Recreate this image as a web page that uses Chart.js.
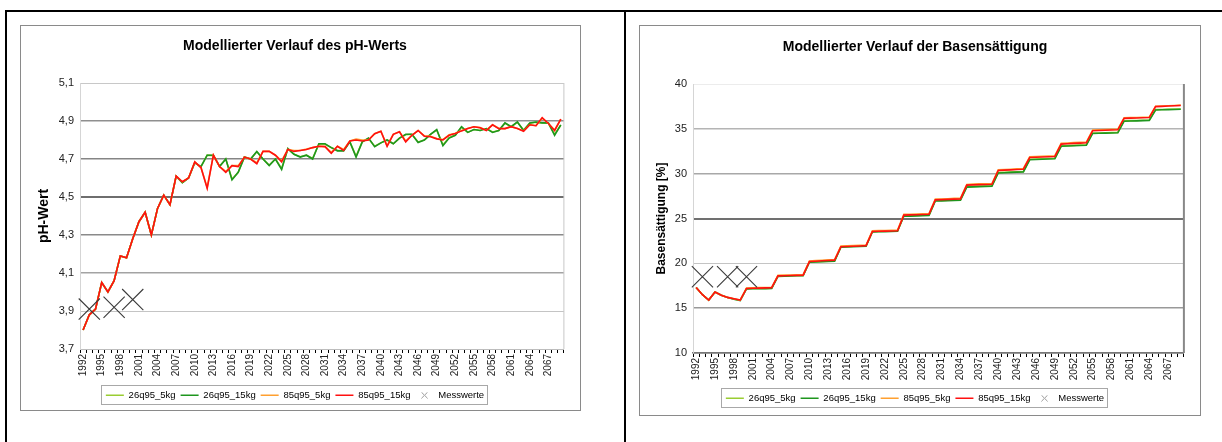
<!DOCTYPE html>
<html><head><meta charset="utf-8">
<script src="https://cdn.jsdelivr.net/npm/chart.js@4.4.1/dist/chart.umd.min.js"></script>
<style>
body{margin:0;background:#fff;width:1222px;height:442px;position:relative;overflow:hidden}
.rule{position:absolute;background:#000}
.box{position:absolute;box-sizing:border-box;border:1px solid #8a8a8a;background:#fff}
.box canvas{display:block}
</style></head><body>
<div class="rule" style="left:5px;top:10px;width:1217px;height:2px"></div>
<div class="rule" style="left:5px;top:10px;width:2px;height:432px"></div>
<div class="rule" style="left:624px;top:10px;width:2px;height:432px"></div>
<div class="box" style="left:20px;top:25px;width:561px;height:386px"><canvas id="phChart" width="559" height="384"></canvas></div>
<div class="box" style="left:639px;top:25px;width:562px;height:391px"><canvas id="bsChart" width="560" height="389"></canvas></div>
<script>
const years=[1992,1993,1994,1995,1996,1997,1998,1999,2000,2001,2002,2003,2004,2005,2006,2007,2008,2009,2010,2011,
  2012,2013,2014,2015,2016,2017,2018,2019,2020,2021,2022,2023,2024,2025,2026,2027,2028,2029,2030,2031,
  2032,2033,2034,2035,2036,2037,2038,2039,2040,2041,2042,2043,2044,2045,2046,2047,2048,2049,2050,2051,
  2052,2053,2054,2055,2056,2057,2058,2059,2060,2061,2062,2063,2064,2065,2066,2067,2068,2069];
const seriesNames=["26q95_5kg","26q95_15kg","85q95_5kg","85q95_15kg","Messwerte"];

// pH-Wert
const phLightGreen=[3.80,3.88,3.91,4.05,4.00,4.06,4.19,4.18,4.28,4.37,
  4.42,4.30,4.44,4.51,4.46,4.61,4.575,4.60,4.68,4.66,
  4.72,4.718,4.662,4.70,4.595,4.63,4.71,4.70,4.738,4.70,
  4.668,4.70,4.65,4.753,4.725,4.712,4.72,4.703,4.778,4.778,
  4.76,4.745,4.745,4.79,4.715,4.79,4.808,4.767,4.785,4.80,
  4.78,4.81,4.828,4.83,4.79,4.80,4.83,4.852,4.775,4.812,
  4.826,4.868,4.84,4.855,4.85,4.86,4.842,4.85,4.888,4.87,
  4.893,4.852,4.888,4.893,4.89,4.888,4.83,4.878];
const phGreen=[3.80,3.88,3.91,4.05,4.00,4.06,4.19,4.18,4.28,4.37,
  4.42,4.30,4.44,4.51,4.46,4.61,4.575,4.60,4.68,4.66,
  4.72,4.72,4.66,4.70,4.59,4.63,4.71,4.70,4.74,4.70,
  4.665,4.70,4.645,4.755,4.725,4.71,4.72,4.70,4.78,4.78,
  4.76,4.743,4.743,4.79,4.71,4.79,4.81,4.765,4.785,4.80,
  4.78,4.81,4.83,4.83,4.787,4.80,4.83,4.855,4.77,4.81,
  4.825,4.87,4.84,4.855,4.85,4.86,4.84,4.85,4.89,4.87,
  4.895,4.85,4.89,4.895,4.89,4.89,4.825,4.88];
const phOrange=[3.80,3.88,3.91,4.05,4.00,4.06,4.19,4.18,4.28,4.37,
  4.42,4.30,4.44,4.51,4.46,4.61,4.58,4.60,4.685,4.655,
  4.55,4.72,4.66,4.635,4.665,4.665,4.71,4.70,4.68,4.74,
  4.74,4.72,4.69,4.75,4.745,4.745,4.752,4.76,4.767,4.765,
  4.735,4.767,4.75,4.795,4.805,4.80,4.80,4.833,4.846,4.77,
  4.83,4.843,4.795,4.825,4.85,4.822,4.82,4.808,4.802,4.828,
  4.836,4.85,4.86,4.87,4.865,4.852,4.88,4.862,4.86,4.87,
  4.86,4.848,4.88,4.875,4.915,4.887,4.852,4.91];
const phRed=[3.80,3.88,3.91,4.05,4.00,4.06,4.19,4.18,4.28,4.37,
  4.42,4.30,4.44,4.51,4.46,4.61,4.58,4.60,4.685,4.655,
  4.545,4.72,4.66,4.63,4.665,4.66,4.71,4.70,4.675,4.74,
  4.74,4.72,4.685,4.75,4.74,4.745,4.75,4.76,4.767,4.765,
  4.73,4.767,4.745,4.795,4.80,4.795,4.80,4.833,4.846,4.767,
  4.83,4.843,4.79,4.825,4.85,4.82,4.817,4.806,4.80,4.825,
  4.834,4.848,4.86,4.87,4.865,4.85,4.88,4.86,4.86,4.87,
  4.86,4.846,4.88,4.875,4.918,4.887,4.85,4.91];

// Basensättigung [%]
const bsLightGreen=[17.3,16.5,15.9,16.8,16.45,16.2,16.02,15.88,
  17.18,17.19,17.2,17.21,17.22, 18.58,18.6,18.62,18.64,18.66, 20.16,20.19,20.22,20.25,20.28,
  21.84,21.87,21.9,21.93,21.96, 23.53,23.55,23.57,23.59,23.61, 25.3,25.32,25.34,25.36,25.38,
  27.0,27.02,27.04,27.06,27.08, 28.55,28.58,28.61,28.63,28.65, 30.13,30.16,30.19,30.22,30.25,
  31.6,31.63,31.66,31.69,31.72, 33.1,33.13,33.16,33.19,33.22, 34.52,34.54,34.56,34.58,34.6,
  35.89,35.91,35.93,35.95,35.97, 37.14,37.16,37.18,37.2,37.22];
const bsGreen=[17.3,16.5,15.9,16.8,16.45,16.2,16.0,15.85,
  17.15,17.16,17.17,17.18,17.19, 18.55,18.57,18.59,18.61,18.63, 20.12,20.15,20.18,20.21,20.24,
  21.8,21.83,21.86,21.89,21.92, 23.5,23.52,23.54,23.56,23.58, 25.25,25.27,25.29,25.31,25.33,
  26.95,26.97,26.99,27.01,27.03, 28.5,28.53,28.56,28.58,28.6, 30.08,30.11,30.14,30.17,30.2,
  31.55,31.58,31.61,31.64,31.67, 33.05,33.08,33.11,33.14,33.17, 34.48,34.5,34.52,34.54,34.56,
  35.85,35.87,35.89,35.91,35.93, 37.1,37.12,37.14,37.16,37.18];
const bsOrange=[17.3,16.5,15.9,16.8,16.45,16.2,16.05,15.9,
  17.25,17.27,17.29,17.31,17.33, 18.66,18.68,18.7,18.72,18.74, 20.27,20.31,20.35,20.39,20.43,
  21.93,21.96,21.99,22.02,22.05, 23.63,23.65,23.67,23.69,23.71, 25.46,25.48,25.5,25.53,25.56,
  27.16,27.18,27.21,27.24,27.27, 28.8,28.83,28.86,28.88,28.9, 30.44,30.47,30.5,30.54,30.58,
  31.88,31.91,31.94,31.97,32.0, 33.38,33.42,33.46,33.49,33.52, 34.86,34.89,34.92,34.95,34.97,
  36.23,36.25,36.27,36.3,36.32, 37.52,37.55,37.58,37.61,37.64];
const bsRed=[17.3,16.5,15.9,16.8,16.45,16.2,16.05,15.9,
  17.2,17.22,17.24,17.26,17.28, 18.6,18.62,18.64,18.66,18.68, 20.2,20.24,20.28,20.32,20.36,
  21.85,21.88,21.91,21.94,21.97, 23.55,23.57,23.59,23.61,23.63, 25.38,25.4,25.42,25.45,25.48,
  27.08,27.1,27.13,27.16,27.19, 28.72,28.75,28.78,28.8,28.82, 30.36,30.39,30.42,30.46,30.5,
  31.8,31.83,31.86,31.89,31.92, 33.3,33.34,33.38,33.41,33.44, 34.78,34.81,34.84,34.87,34.89,
  36.17,36.19,36.21,36.24,36.26, 37.48,37.51,37.54,37.57,37.6];

// Messwerte
const messYears=[1993,1997,2000];
const messPh=[3.91,3.92,3.96];
const messBs=[18.5,18.5,18.5];

Chart.defaults.font.family='"Liberation Sans",Arial,sans-serif';
Chart.defaults.color="#222";

const lineColors=["#9acd32","#1e961e","#ffa030","#ff1010"];

// small grey x for the legend entry
const legendCross=document.createElement("canvas");
legendCross.width=7;legendCross.height=7;
(()=>{const g=legendCross.getContext("2d");g.strokeStyle="#9a9a9a";g.lineWidth=1;
  g.beginPath();g.moveTo(0.5,0.5);g.lineTo(6.5,6.5);g.moveTo(6.5,0.5);g.lineTo(0.5,6.5);g.stroke();})();

// plot edge on the right + box round the legend
const frame={id:"frame",afterDraw(c,a,o){
  const {ctx,chartArea:ca,legend:lg}=c;
  ctx.save();
  ctx.strokeStyle=o.edge;ctx.lineWidth=o.edgeWidth;
  ctx.beginPath();ctx.moveTo(ca.right,ca.top);ctx.lineTo(ca.right,ca.bottom);ctx.stroke();
  const hb=lg.legendHitBoxes,last=hb[hb.length-1];
  const l=Math.round(hb[0].left-5),r=Math.round(last.left+last.width+3);
  const cy=Math.round(hb[0].top+hb[0].height/2);
  ctx.strokeStyle="#a8a8a8";ctx.lineWidth=1;
  ctx.strokeRect(l+.5,cy-9.5,r-l,19);
  ctx.restore();
}};

function makeChart(id,s){
  const data=[s.lightGreen,s.green,s.orange,s.red];
  const ds=data.map((d,i)=>({label:seriesNames[i],data:d,borderColor:lineColors[i],backgroundColor:lineColors[i],
    borderWidth:1.6,pointRadius:0,pointStyle:"line",tension:0,order:4-i}));
  ds.push({label:seriesNames[4],data:messYears.map((y,i)=>({x:String(y),y:s.mess[i]})),showLine:false,
    pointStyle:"crossRot",pointRadius:15,borderColor:"#3a3a3a",backgroundColor:"transparent",borderWidth:1.1,order:0});
  return new Chart(document.getElementById(id),{type:"line",
    data:{labels:years.map(String),datasets:ds},
    plugins:[frame],
    options:{responsive:false,animation:false,events:[],
      layout:{padding:{left:0,right:s.padRight,top:0,bottom:s.padBottom}},
      plugins:{
        title:{display:true,text:s.title,color:"#000",font:{size:14,weight:"bold"},padding:s.titlePad},
        legend:{position:"bottom",
          labels:{usePointStyle:true,pointStyleWidth:18,boxHeight:6,padding:5,color:"#000",font:{size:9.5},
            sort:(a,b)=>a.datasetIndex-b.datasetIndex,
            generateLabels(c){const it=Chart.defaults.plugins.legend.labels.generateLabels(c);
              it.forEach(x=>{if(x.pointStyle==="crossRot")x.pointStyle=legendCross});return it}}},
        tooltip:{enabled:false},
        frame:{edge:s.edge,edgeWidth:s.edgeWidth}
      },
      scales:{
        x:{offset:true,grid:{offset:true,drawOnChartArea:false,tickLength:4,color:"#000"},
          border:{color:s.gridColors[0],width:s.gridWidths[0]},
          ticks:{autoSkip:false,minRotation:90,maxRotation:90,padding:1,font:{size:10},color:"#222",
            callback(v,i){return i%3===0?this.getLabelForValue(v):""}},
          afterFit(sc){sc.height=s.xHeight}},
        y:{min:s.min,max:s.max,ticks:{stepSize:s.step,padding:6,font:{size:11},color:"#222",callback:s.fmt},
          grid:{drawTicks:false,color:c=>s.gridColors[c.index],lineWidth:c=>s.gridWidths[c.index]},
          border:{color:"#d5d5d5"},
          title:{display:true,text:s.yTitle,color:"#000",font:{size:s.yTitleSize,weight:"bold"},padding:{top:s.yTitlePad,bottom:0}},
          afterFit(sc){sc.width=s.yWidth}}
      }}});
}

makeChart("phChart",{lightGreen:phLightGreen,green:phGreen,orange:phOrange,red:phRed,mess:messPh,
  title:"Modellierter Verlauf des pH-Werts",titlePad:{top:11.6,bottom:28.6},
  yTitle:"pH-Wert",yTitleSize:14,yTitlePad:14.6,yWidth:59,xHeight:36.5,padRight:11,padBottom:0,
  min:3.7,max:5.1,step:0.2,fmt:v=>v.toFixed(1).replace(".",","),
  gridColors:["#bdbdbd","#c4c4c4","#a3a3a3","#8a8a8a","#6e6e6e","#858585","#8f8f8f","#c8c8c8"],
  gridWidths:[1,1,1.5,1.5,2,1.5,1.5,1],edge:"#c8c8c8",edgeWidth:1});

makeChart("bsChart",{lightGreen:bsLightGreen,green:bsGreen,orange:bsOrange,red:bsRed,mess:messBs,
  title:"Modellierter Verlauf der Basensättigung",titlePad:{top:12.6,bottom:28.6},
  yTitle:"Basensättigung [%]",yTitleSize:12,yTitlePad:14.3,yWidth:53,xHeight:35.5,padRight:10,padBottom:2,
  min:10,max:40,step:5,fmt:v=>String(v),
  gridColors:["#777777","#999999","#c4c4c4","#707070","#a8a8a8","#b4b4b4","#ececec"],
  gridWidths:[1.5,1.5,1,2,1.5,1.5,1],edge:"#888888",edgeWidth:2});
</script>
</body></html>
